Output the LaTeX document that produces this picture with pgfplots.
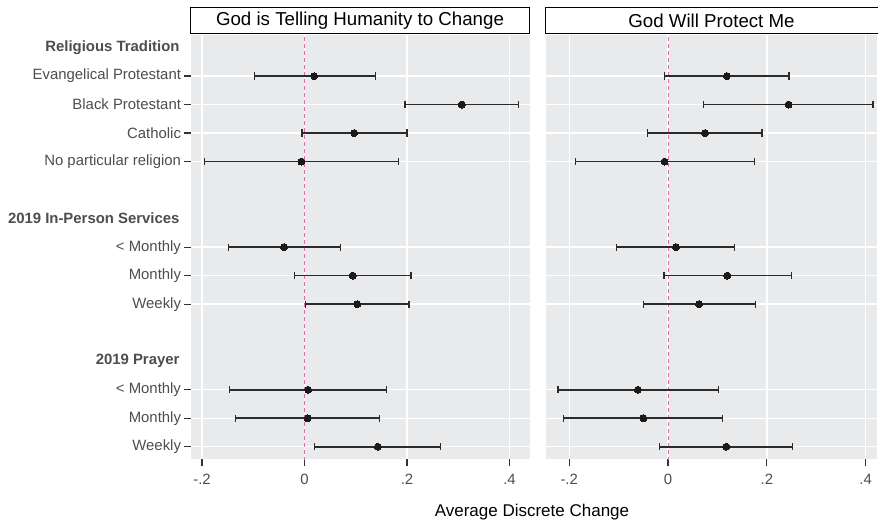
\documentclass[border=0pt]{standalone}
\usepackage{fontspec}
\setmainfont{Liberation Sans}
\usepackage{pgfplots}
\usepackage{pgfplotstable}
\pgfplotsset{compat=1.18}
\definecolor{panel}{HTML}{E9EAEC}
\definecolor{lab}{HTML}{4D4D4D}
\definecolor{tickc}{HTML}{333333}
\definecolor{barc}{HTML}{2B2B2B}
\definecolor{ptc}{HTML}{1A1A1A}
\definecolor{zeroc}{RGB}{216,110,165}

\pgfplotstableread{
y est lo hi
2 0.019 -0.097 0.139
3 0.307 0.196 0.418
4 0.097 -0.005 0.200
5 -0.006 -0.195 0.183
8 -0.040 -0.148 0.070
9 0.094 -0.019 0.208
10 0.103 0.002 0.204
13 0.007 -0.146 0.160
14 0.006 -0.134 0.147
15 0.143 0.020 0.266
}\leftdata

\pgfplotstableread{
y est lo hi
2 0.119 -0.007 0.245
3 0.244 0.072 0.415
4 0.075 -0.041 0.190
5 -0.007 -0.188 0.175
8 0.016 -0.104 0.135
9 0.120 -0.008 0.250
10 0.063 -0.050 0.177
13 -0.061 -0.223 0.102
14 -0.050 -0.211 0.110
15 0.118 -0.017 0.252
}\rightdata

\pgfplotsset{
  panelstyle/.style={
    scale only axis,
    anchor=south west,
    y dir=reverse,
    ymin=0.56, ymax=15.44,
    axis line style={draw=none},
    axis background/.style={fill=panel},
    grid=major,
    major grid style={white, line width=1.4pt},
    tick align=outside,
    major tick length=6.5pt,
    tick style={color=tickc, line width=1.3pt},
    xtick pos=bottom, ytick pos=left,
    xtick={-0.2,0,0.2,0.4},
    xticklabels={-.2,0,.2,.4},
    ytick={2,3,4,5,8,9,10,13,14,15},
    /pgf/number format/assume math mode=true,
    tick label style={font=\fontsize{14.9pt}{17pt}\selectfont, text=lab},
    xticklabel style={yshift=-5pt},
  },
  zeroline/.style={dash pattern=on 4pt off 3pt, zeroc, line width=0.9pt},
}

\newcommand{\drawseries}[1]{%
  \addplot[zeroline] coordinates {(0,0.4) (0,15.6)};
  \addplot[draw=barc, line width=1.6pt, mark=none, -,
    quiver={u=\thisrow{hi}-\thisrow{lo}, v=0}]
    table[x=lo, y=y] {#1};
  \addplot[only marks, mark=|, mark size=3.6pt, mark options={line width=1.3pt, draw=barc}]
    table[x=lo, y=y] {#1};
  \addplot[only marks, mark=|, mark size=3.6pt, mark options={line width=1.3pt, draw=barc}]
    table[x=hi, y=y] {#1};
  \addplot[only marks, mark=*, mark size=3.5pt, mark options={fill=ptc, draw=ptc, line width=0pt}]
    table[x=est, y=y] {#1};
}

\begin{document}
\begin{tikzpicture}[x=1pt,y=1pt]
\useasboundingbox (0,0) rectangle (878,521);

\begin{axis}[panelstyle,
  at={(191pt,61.7pt)}, width=339pt, height=424.3pt,
  xmin=-0.2215, xmax=0.440,
  yticklabels={Evangelical Protestant, Black Protestant, Catholic, No particular religion, < Monthly, Monthly, Weekly, < Monthly, Monthly, Weekly},
  extra y ticks={1,7,12},
  extra y tick labels={\textbf{Religious Tradition}, \textbf{2019 In-Person Services}, \textbf{2019 Prayer}},
  extra y tick style={grid=none, tick style={draw=none}, yticklabel style={xshift=-1.5pt}},
]
\drawseries{\leftdata}
\end{axis}

\begin{axis}[panelstyle,
  at={(546pt,61.7pt)}, width=331pt, height=424.3pt,
  xmin=-0.247, xmax=0.423,
  yticklabels={},
  ytick style={draw=none},
]
\drawseries{\rightdata}
\end{axis}

% strips
\draw[line width=1.1pt, fill=white] (190.2,487.6) rectangle (529.8,513.6);
\node[font=\fontsize{18.7pt}{21pt}\selectfont, anchor=center] at (360,500.6) {God is Telling Humanity to Change};
\draw[line width=1.1pt, fill=white] (545.6,487.6) rectangle (882,513.6);
\node[font=\fontsize{18.7pt}{21pt}\selectfont, anchor=center] at (711.5,500.6) {God Will Protect Me};

% axis title
\node[font=\fontsize{17pt}{20pt}\selectfont, anchor=base] at (532,4.5) {Average Discrete Change};
\end{tikzpicture}
\end{document}
